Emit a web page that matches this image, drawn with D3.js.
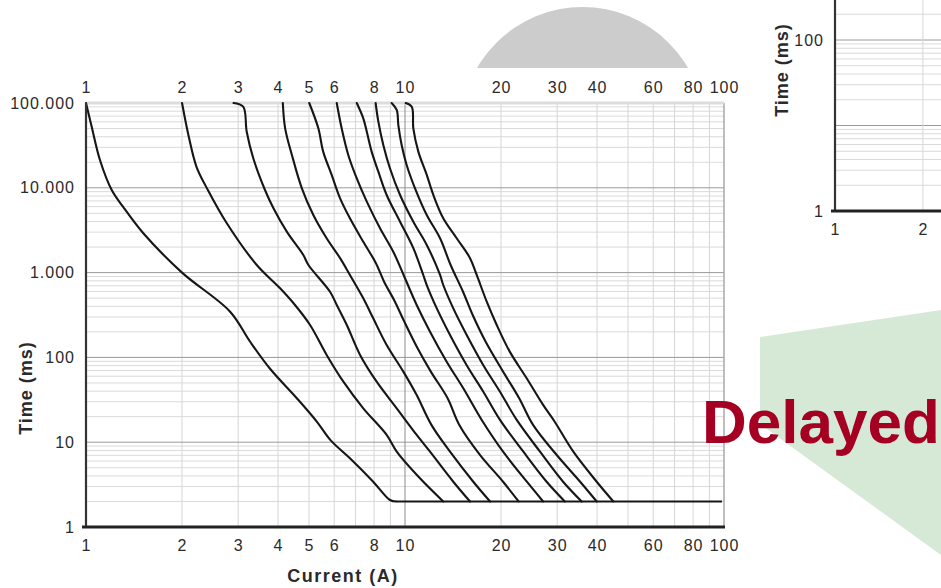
<!DOCTYPE html>
<html>
<head>
<meta charset="utf-8">
<script src="https://cdn.jsdelivr.net/npm/d3@7"></script>
<style>
body { margin: 0; background: #fff; }
svg { display: block; font-family: "Liberation Sans", Arial, sans-serif; }
</style>
</head>
<body>
<div id="container"></div>
<script>
// trip curves, one per rated current (A), points are [current A, time ms]
let ratings = [1, 2, 3, 4, 5, 6, 7, 8, 9, 10];
let curve1 = [[1,100000],[1.042,52500],[1.106,21300],[1.204,9420],[1.306,5990],[1.51,2930],[2.0,1000],[2.83,346],[3.27,153],[3.77,74],[4.58,33],[5.29,17.5],[5.85,10.5],[6.72,6.46],[7.95,3.42],[8.97,2.08],[9.4,2]];
let curve2 = [[2.0,100000],[2.1,40000],[2.22,17700],[2.41,9420],[2.76,3845],[3.43,1230],[4.06,653],[4.52,415],[5.04,241],[5.68,107],[6.41,51.7],[7.40,25.1],[8.76,12.2],[9.42,7.73],[11.14,3.75],[13.18,2]];
let curve3 = [[2.9,100000],[3.11,90400],[3.19,45900],[3.345,22300],[3.64,9420],[3.87,5730],[4.26,3040],[4.80,1610],[4.98,1230],[5.82,595],[6.11,415],[6.57,241],[7.23,107],[8.15,51.7],[9.42,25.1],[10.88,12.2],[11.98,7.73],[14.17,3.42],[15.99,2]];
let curve4 = [[4.14,100000],[4.21,50300],[4.42,24400],[4.75,9860],[5.16,4780],[5.68,2540],[6.26,1480],[6.72,937],[7.40,498],[7.95,289],[8.76,140],[9.88,68],[10.88,36],[12.1,16],[13.84,7.73],[16.37,3.42],[18.48,2]];
let curve5 = [[5.01,100000],[5.35,50300],[5.54,26700],[5.89,14200],[6.26,7520],[6.72,4370],[7.40,2310],[8.1,1300],[8.6,781],[9.3,454],[9.95,264],[10.95,128],[12.05,68],[13.6,33],[14.8,16],[17.2,7.06],[20.3,3.42],[22.7,2]];
let curve6 = [[6.11,100000],[6.33,50300],[6.64,24400],[7.06,12900],[7.59,6860],[8.35,3330],[9.19,1760],[10.0,857],[10.88,415],[11.98,201],[13.51,89],[15.23,43.2],[17.4,18.3],[20.3,7.73],[24.1,3.42],[27.1,2]];
let curve7 = [[7.06,100000],[7.40,66000],[7.59,45900],[7.86,26700],[8.25,15500],[8.76,8230],[9.65,3980],[10.62,1940],[11.41,937],[11.7,714],[12.58,379],[13.84,184],[15.61,81],[17.6,39.4],[19.85,18.3],[23.5,7.73],[27.8,3.42],[31.7,2]];
let curve8 = [[8.09,100000],[8.25,60200],[8.55,32000],[8.97,17000],[9.65,8230],[10.62,3980],[11.7,2120],[12.88,937],[13.18,714],[14.17,379],[15.61,184],[17.6,81],[19.85,39.4],[22.4,18.3],[26.5,7.73],[31.3,3.42],[35.8,2]];
let curve9 = [[9.08,100000],[9.42,82700],[9.53,55000],[9.76,32000],[10.12,18600],[10.75,9860],[11.7,4780],[12.88,2540],[13.9,1230],[15.2,595],[16.3,316],[17.9,153],[20.3,68],[22.8,33],[25.2,16],[29.9,7.06],[35.4,3.42],[39.9,2]];
let curve10 = [[10.05,100000],[10.5,90400],[10.62,50300],[11.01,26700],[11.7,14200],[12.27,8230],[13.18,4370],[14.52,2540],[15.99,1480],[16.78,937],[18.04,454],[19.39,241],[21.3,117],[24.07,56.7],[27.1,27.5],[29.5,17.3],[33.7,7.73],[39.9,3.42],[45.0,2]];
let curves = [curve1, curve2, curve3, curve4, curve5, curve6, curve7, curve8, curve9, curve10];
let floorLine = [[9.4,2],[98.6,2]];

let xTicks = [1, 2, 3, 4, 5, 6, 8, 10, 20, 30, 40, 60, 80, 100];
let yTicks = [1, 10, 100, 1000, 10000, 100000];
let insetYTicks = [1, 100];
let insetXTicks = [1, 2];

let svg = d3.select('#container')
    .append('svg')
    .attr('width', 941)
    .attr('height', 588);

// background decorations from the slide
svg.append('clipPath').attr('id', 'domeClip')
    .append('rect').attr('x', 0).attr('y', 0).attr('width', 941).attr('height', 68);
svg.append('circle')
    .attr('cx', 582.5).attr('cy', 128.7).attr('r', 121.7)
    .attr('fill', '#cccccc')
    .attr('clip-path', 'url(#domeClip)');
svg.append('polygon')
    .attr('points', '760,337 941,310 941,555 760,424')
    .attr('fill', '#d6e9d7');

// main chart
let x = d3.scaleLog().domain([1, 100]).range([86, 724]);
let y = d3.scaleLog().domain([1, 100000]).range([527, 103]);

let minorX = d3.range(2, 10).concat(d3.range(20, 100, 10));
let minorY = [];
[1, 10, 100, 1000, 10000].forEach(d => d3.range(2, 10).forEach(k => minorY.push(d * k)));

let grid = svg.append('g');
grid.selectAll('.hminor').data(minorY).enter().append('line')
    .attr('x1', x(1)).attr('x2', x(100))
    .attr('y1', d => y(d)).attr('y2', d => y(d))
    .attr('stroke', '#dadada').attr('stroke-width', 1);
grid.selectAll('.vminor').data(minorX).enter().append('line')
    .attr('x1', d => x(d)).attr('x2', d => x(d))
    .attr('y1', y(100000)).attr('y2', y(1))
    .attr('stroke', '#d6d6d6').attr('stroke-width', 1);
grid.selectAll('.hmajor').data([10, 100, 1000, 10000]).enter().append('line')
    .attr('x1', x(1)).attr('x2', x(100))
    .attr('y1', d => y(d)).attr('y2', d => y(d))
    .attr('stroke', '#9a9a9a').attr('stroke-width', 1);
grid.append('line')
    .attr('x1', x(10)).attr('x2', x(10))
    .attr('y1', y(100000)).attr('y2', y(1))
    .attr('stroke', '#8c8c8c').attr('stroke-width', 1);
grid.append('line')
    .attr('x1', x(100)).attr('x2', x(100))
    .attr('y1', y(100000)).attr('y2', y(1))
    .attr('stroke', '#a8a8a8').attr('stroke-width', 1.5);
grid.append('line')
    .attr('x1', x(1)).attr('x2', x(100))
    .attr('y1', y(100000)).attr('y2', y(100000))
    .attr('stroke', '#dcdcdc').attr('stroke-width', 3);

let line = d3.line()
    .x(d => x(d[0]))
    .y(d => y(d[1]))
    .curve(d3.curveCatmullRom.alpha(0.5));

svg.append('g').selectAll('path')
    .data(curves)
    .enter()
    .append('path')
    .attr('d', line)
    .attr('fill', 'none')
    .attr('stroke', '#161616')
    .attr('stroke-width', 2.1)
    .attr('stroke-linejoin', 'round')
    .attr('stroke-linecap', 'round');

svg.append('path')
    .attr('d', d3.line().x(d => x(d[0])).y(d => y(d[1]))(floorLine))
    .attr('fill', 'none')
    .attr('stroke', '#161616')
    .attr('stroke-width', 2);

// axis lines
svg.append('line')
    .attr('x1', x(1)).attr('x2', x(1))
    .attr('y1', y(100000)).attr('y2', y(1))
    .attr('stroke', '#333').attr('stroke-width', 2.2);
svg.append('line')
    .attr('x1', x(1) - 4).attr('x2', x(100) + 1)
    .attr('y1', y(1)).attr('y2', y(1))
    .attr('stroke', '#222').attr('stroke-width', 3);

// tick labels
let fmt = d3.formatLocale({decimal: ',', thousands: '.', grouping: [3], currency: ['', '']}).format(',d');

function styleAxis(g) {
    g.select('.domain').remove();
    g.selectAll('line').remove();
    g.selectAll('text')
        .attr('font-family', '"Liberation Sans", Arial, sans-serif')
        .attr('font-size', 16)
        .attr('letter-spacing', 1)
        .attr('fill', '#2a2a2a');
}

svg.append('g')
    .attr('transform', `translate(${x(1)},0)`)
    .call(d3.axisLeft(y).tickValues(yTicks).tickFormat(fmt).tickSize(0).tickPadding(11))
    .call(styleAxis);
svg.append('g')
    .attr('transform', `translate(0,${y(100000)})`)
    .call(d3.axisTop(x).tickValues(xTicks).tickFormat(d3.format('d')).tickSize(0).tickPadding(10))
    .call(styleAxis);
svg.append('g')
    .attr('transform', `translate(0,${y(1)})`)
    .call(d3.axisBottom(x).tickValues(xTicks).tickFormat(d3.format('d')).tickSize(0).tickPadding(13))
    .call(styleAxis);

svg.append('text')
    .attr('transform', 'translate(32,388) rotate(-90)')
    .attr('text-anchor', 'middle')
    .attr('font-size', 18)
    .attr('font-weight', 'bold')
    .attr('letter-spacing', 1)
    .attr('fill', '#2a2a2a')
    .text('Time (ms)');
svg.append('text')
    .attr('x', 343).attr('y', 582)
    .attr('text-anchor', 'middle')
    .attr('font-size', 18)
    .attr('font-weight', 'bold')
    .attr('letter-spacing', 1.5)
    .attr('fill', '#2a2a2a')
    .text('Current (A)');

// partial chart on the right edge
let x2 = d3.scaleLog().domain([1, 10]).range([835, 1127]);
let y2 = d3.scaleLog().domain([1, 1000]).range([211, -45.5]);
let inset = svg.append('g');
let insetMinorY = [];
[1, 10, 100].forEach(d => d3.range(2, 10).forEach(k => insetMinorY.push(d * k)));
inset.selectAll('.hminor').data(insetMinorY).enter().append('line')
    .attr('x1', x2(1)).attr('x2', 941)
    .attr('y1', d => y2(d)).attr('y2', d => y2(d))
    .attr('stroke', '#dadada');
inset.selectAll('.hmajor').data([10, 100]).enter().append('line')
    .attr('x1', x2(1)).attr('x2', 941)
    .attr('y1', d => y2(d)).attr('y2', d => y2(d))
    .attr('stroke', '#9a9a9a');
inset.append('line')
    .attr('x1', x2(2)).attr('x2', x2(2))
    .attr('y1', 0).attr('y2', y2(1))
    .attr('stroke', '#d6d6d6');
inset.append('line')
    .attr('x1', x2(1)).attr('x2', x2(1))
    .attr('y1', 0).attr('y2', y2(1))
    .attr('stroke', '#333').attr('stroke-width', 2.2);
inset.append('line')
    .attr('x1', x2(1) - 4).attr('x2', 941)
    .attr('y1', y2(1)).attr('y2', y2(1))
    .attr('stroke', '#222').attr('stroke-width', 3);

svg.append('g')
    .attr('transform', `translate(${x2(1)},0)`)
    .call(d3.axisLeft(y2).tickValues(insetYTicks).tickFormat(fmt).tickSize(0).tickPadding(11))
    .call(styleAxis);
svg.append('g')
    .attr('transform', `translate(0,${y2(1)})`)
    .call(d3.axisBottom(x2).tickValues(insetXTicks).tickFormat(d3.format('d')).tickSize(0).tickPadding(13))
    .call(styleAxis);
svg.append('text')
    .attr('transform', 'translate(788,70) rotate(-90)')
    .attr('text-anchor', 'middle')
    .attr('font-size', 18)
    .attr('font-weight', 'bold')
    .attr('letter-spacing', 1)
    .attr('fill', '#2a2a2a')
    .text('Time (ms)');

// slide caption
svg.append('text')
    .attr('x', 702).attr('y', 443)
    .attr('font-size', 62)
    .attr('font-weight', 'bold')
    .attr('fill', '#a50021')
    .text('Delayed');
</script>
</body>
</html>
